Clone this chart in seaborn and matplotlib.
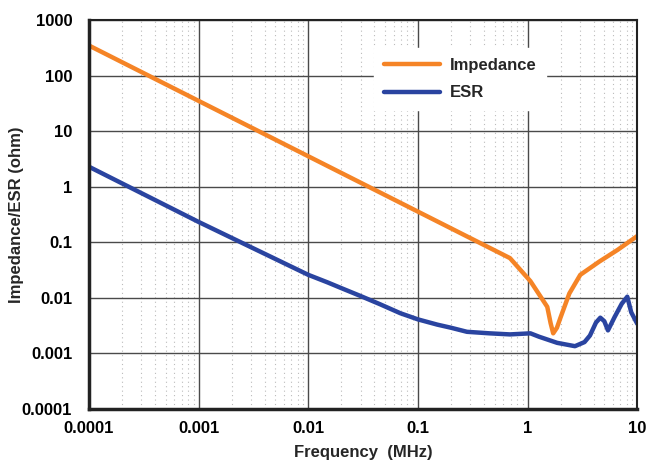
import matplotlib
matplotlib.use("Agg")
import matplotlib.pyplot as plt
from matplotlib.ticker import FixedLocator, LogLocator, NullFormatter
import seaborn as sns
import pandas as pd

# Impedance curve (MHz, ohm)
imp_freq = [0.0001, 0.69, 1.06, 1.51, 1.62, 1.71, 1.85, 2.0, 2.4, 3.02, 4.5, 6.6, 10]
imp_ohm = [350, 0.052, 0.02, 0.0069, 0.0035, 0.0023, 0.0029, 0.0045, 0.012, 0.026, 0.045, 0.073, 0.13]

# ESR curve
esr_freq = [0.0001, 0.001, 0.01, 0.015, 0.02, 0.03, 0.045, 0.069, 0.1, 0.15, 0.2, 0.28, 0.45, 0.69, 1.06,
            1.27, 1.86, 2.7, 3.3, 3.7, 4.2, 4.6, 5.0, 5.4, 6.2, 7.2, 8.1, 8.8, 10]
esr_ohm = [2.3, 0.233, 0.026, 0.019, 0.015, 0.0108, 0.0077, 0.0053, 0.0041, 0.0033, 0.0029, 0.00245, 0.0023,
           0.0022, 0.0023, 0.002, 0.00155, 0.00135, 0.0016, 0.0021, 0.0036, 0.0044, 0.0038, 0.0026,
           0.0045, 0.0078, 0.0105, 0.0055, 0.0034]

x_ticks = [0.0001, 0.001, 0.01, 0.1, 1, 10]
x_labels = ["0.0001", "0.001", "0.01", "0.1", "1", "10"]
y_ticks = [0.0001, 0.001, 0.01, 0.1, 1, 10, 100, 1000]
y_labels = ["0.0001", "0.001", "0.01", "0.1", "1", "10", "100", "1000"]

df = pd.concat([
    pd.DataFrame({"freq": imp_freq, "val": imp_ohm, "series": "Impedance"}),
    pd.DataFrame({"freq": esr_freq, "val": esr_ohm, "series": "ESR"}),
])

sns.set_style("white")
plt.rcParams["font.family"] = ["Liberation Sans Narrow", "Liberation Sans", "DejaVu Sans"]

fig, ax = plt.subplots(figsize=(6.49, 4.69), dpi=100)
fig.subplots_adjust(left=0.137, right=0.982, top=0.957, bottom=0.128)

sns.lineplot(data=df, x="freq", y="val", hue="series", sort=False,
             palette={"Impedance": "#f58426", "ESR": "#2a44a0"},
             linewidth=3.2, ax=ax)

ax.set_xscale("log")
ax.set_yscale("log")
ax.set_xlim(0.0001, 10)
ax.set_ylim(0.0001, 1000)

ax.xaxis.set_major_locator(FixedLocator(x_ticks))
ax.set_xticklabels(x_labels)
ax.yaxis.set_major_locator(FixedLocator(y_ticks))
ax.set_yticklabels(y_labels)
ax.xaxis.set_minor_locator(LogLocator(base=10, subs=range(2, 10)))
ax.xaxis.set_minor_formatter(NullFormatter())
ax.yaxis.set_minor_locator(LogLocator(base=10, subs=range(2, 10)))
ax.yaxis.set_minor_formatter(NullFormatter())

ax.grid(which="major", color="#4a4a4a", linewidth=1.0)
ax.grid(which="minor", axis="x", color="#bbbbbb", linewidth=0.8, linestyle=(0, (1, 3)))
ax.set_axisbelow(True)

ax.tick_params(which="both", length=0, labelsize=12, colors="black")
ax.tick_params(axis="y", pad=12)
ax.tick_params(axis="x", pad=9)
for lab in ax.get_xticklabels() + ax.get_yticklabels():
    lab.set_fontweight("bold")

for side in ["top", "right"]:
    ax.spines[side].set_color("#222222")
    ax.spines[side].set_linewidth(1.5)
for side in ["left", "bottom"]:
    ax.spines[side].set_color("#222222")
    ax.spines[side].set_linewidth(2.5)

ax.set_xlabel("Frequency  (MHz)", fontsize=12, fontweight="bold", labelpad=6)
ax.set_ylabel("Impedance/ESR (ohm)", fontsize=12, fontweight="bold")
ax.yaxis.set_label_coords(-0.118, 0.5)

leg = ax.legend(loc="upper left", bbox_to_anchor=(0.576, 0.898),
                bbox_transform=fig.transFigure, frameon=True,
                fontsize=12, handlelength=3.4, handletextpad=0.55,
                labelspacing=0.75, borderpad=0.6, borderaxespad=0)
leg.get_frame().set_edgecolor("white")
leg.get_frame().set_facecolor("white")
leg.get_frame().set_alpha(1)
leg.get_frame().set_boxstyle("square", pad=0)
for t in leg.get_texts():
    t.set_fontweight("bold")

fig.savefig("out.png", dpi=100)
